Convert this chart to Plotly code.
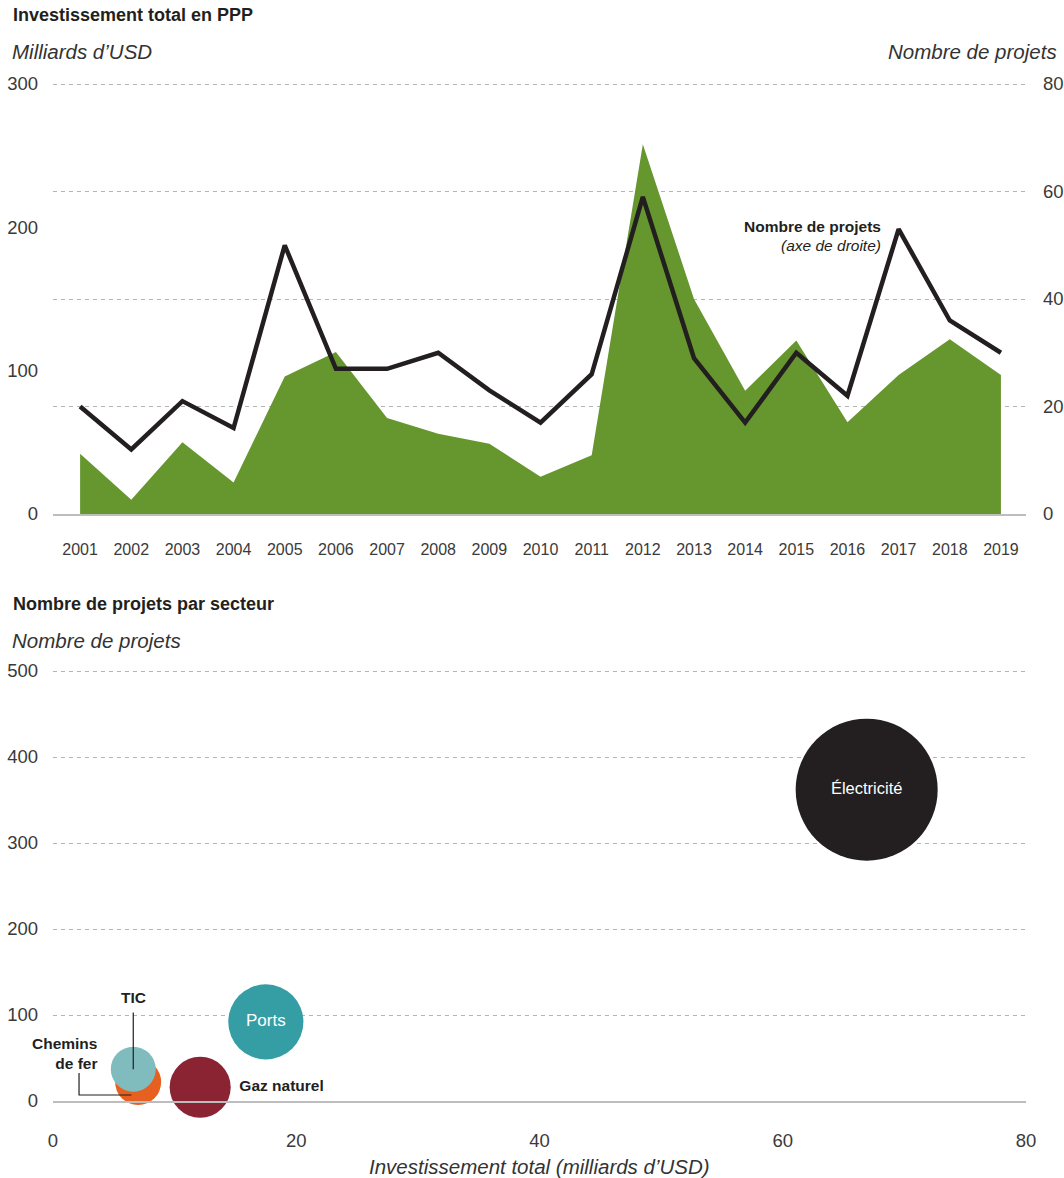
import plotly.graph_objects as go

# ---- Données : investissement total en PPP ----
annees = list(range(2001, 2020))
investissement_mds = [42, 10, 50, 22, 96, 113, 67, 56, 49, 26, 41, 258, 150, 86, 121, 64, 97, 122, 97]
nombre_projets = [20, 12, 21, 16, 50, 27, 27, 30, 23, 17, 26, 59, 29, 17, 30, 22, 53, 36, 30]

# ---- Données : projets par secteur ----
secteurs = ["Électricité", "Ports", "Gaz naturel", "Chemins de fer", "TIC"]
invest_secteur = [66.9, 17.5, 12.1, 7.0, 6.6]
projets_secteur = [362, 92, 16, 22, 37]
poids_bulle = [100, 28, 18.5, 10.5, 10]

W, H = 1064, 1178
FONT = "Liberation Sans"
TXT = "#231f20"
SUB = "#333333"
GRID = "#b3b3b3"
AXIS = "#bdbdbd"
GREEN = "#66962e"
couleurs = ["#231f20", "#359ea4", "#8a2332", "#e8601f", "#80bcbe"]


def py(px):
    return 1 - px / H


def pxx(px):
    return px / W


x_dom = [pxx(53), pxx(1026)]

fig = go.Figure()

# aire : investissement (axe gauche)
fig.add_trace(go.Scatter(
    x=annees, y=investissement_mds, mode="lines", fill="tozeroy",
    line=dict(width=0, color=GREEN), fillcolor=GREEN,
    xaxis="x", yaxis="y", hoverinfo="skip", showlegend=False,
))
# ligne : nombre de projets (axe droit)
fig.add_trace(go.Scatter(
    x=annees, y=nombre_projets, mode="lines",
    line=dict(width=4.5, color=TXT), xaxis="x", yaxis="y2",
    showlegend=False,
))

# bulles par secteur
texte = ["Électricité", "Ports", "<b>Gaz naturel</b>", "", ""]
positions = ["middle center", "middle center", "middle right", "middle center", "middle center"]
couleurs_texte = ["white", "white", TXT, TXT, TXT]
max_d = 142
fig.add_trace(go.Scatter(
    x=invest_secteur, y=projets_secteur, mode="markers+text",
    text=texte, textposition=positions,
    textfont=dict(family=FONT, size=[16.5, 17, 15.5, 15, 15], color=couleurs_texte),
    marker=dict(size=poids_bulle, sizemode="area",
                sizeref=2 * max(poids_bulle) / max_d ** 2,
                color=couleurs, opacity=1, line=dict(width=0)),
    cliponaxis=False, xaxis="x2", yaxis="y3", showlegend=False,
))

tick_font = dict(family=FONT, size=18.5, color="#3a3a3a")

# bornes hautes élargies de ~2 px pour que la dernière ligne de grille soit tracée
fig.update_layout(
    width=W, height=H,
    margin=dict(l=0, r=0, t=0, b=0, autoexpand=False),
    paper_bgcolor="white", plot_bgcolor="white",
    font=dict(family=FONT, color=TXT),
    xaxis=dict(
        domain=x_dom, anchor="y", range=[2000.47, 2019.49], automargin=False,
        tickvals=annees, ticktext=[str(a) for a in annees],
        tickfont=dict(family=FONT, size=16, color="#3a3a3a"),
        ticks="", showgrid=False, zeroline=False,
        showline=True, linecolor=AXIS, linewidth=1.5,
        ticklabelstandoff=20,
    ),
    yaxis=dict(
        domain=[py(514), py(81.85)], anchor="x", range=[0, 301.5], automargin=False,
        tickvals=[0, 100, 200, 300], tickfont=tick_font,
        showgrid=False, zeroline=False, ticks="",
        ticklabelstandoff=14,
    ),
    yaxis2=dict(
        overlaying="y", side="right", anchor="x", range=[0, 80.4], automargin=False,
        tickvals=[0, 20, 40, 60, 80], tickfont=tick_font,
        showgrid=True, gridcolor=GRID, griddash="4px,4px", gridwidth=1,
        zeroline=False, ticks="", ticklabelstandoff=16,
    ),
    xaxis2=dict(
        domain=x_dom, anchor="y3", range=[0, 80], automargin=False,
        tickvals=[0, 20, 40, 60, 80], tickfont=tick_font,
        ticks="", showgrid=False, zeroline=False,
        showline=True, linecolor=AXIS, linewidth=1.5,
        ticklabelstandoff=22,
    ),
    yaxis3=dict(
        domain=[py(1101), py(668.85)], anchor="x2", range=[0, 502.5], automargin=False,
        tickvals=[0, 100, 200, 300, 400, 500], tickfont=tick_font,
        showgrid=True, gridcolor=GRID, griddash="4px,4px", gridwidth=1,
        zeroline=False, ticks="", ticklabelstandoff=14,
    ),
)

annots = [
    dict(text="<b>Investissement total en PPP</b>", x=pxx(11), y=py(15),
         xanchor="left", font=dict(size=18)),
    dict(text="<i>Milliards d’USD</i>", x=pxx(10), y=py(52),
         xanchor="left", font=dict(size=20.5, color=SUB)),
    dict(text="<i>Nombre de projets</i>", x=pxx(1059), y=py(52),
         xanchor="right", font=dict(size=20.5, color=SUB)),
    dict(text="<b>Nombre de projets par secteur</b>", x=pxx(11), y=py(604),
         xanchor="left", font=dict(size=18)),
    dict(text="<i>Nombre de projets</i>", x=pxx(10), y=py(640),
         xanchor="left", font=dict(size=20.5, color=SUB)),
    dict(text="<i>Investissement total (milliards d’USD)</i>", x=(x_dom[0] + x_dom[1]) / 2,
         y=py(1166), xanchor="center", font=dict(size=20.5, color=SUB)),
    dict(text="<b>Nombre de projets</b>", x=pxx(883), y=py(227),
         xanchor="right", font=dict(size=15.5)),
    dict(text="<i>(axe de droite)</i>", x=pxx(883), y=py(245),
         xanchor="right", font=dict(size=15.5)),
]
for a in annots:
    a.update(xref="paper", yref="paper", yanchor="middle", showarrow=False)
    a["font"].setdefault("family", FONT)
    a["font"].setdefault("color", TXT)

# étiquettes TIC et Chemins de fer avec traits de rappel
i_tic = secteurs.index("TIC")
i_cf = secteurs.index("Chemins de fer")
annots.append(dict(text="<b>TIC</b>", x=invest_secteur[i_tic], y=projets_secteur[i_tic],
                   xref="x2", yref="y3", yshift=72, showarrow=False,
                   font=dict(family=FONT, size=15.5, color=TXT)))
annots.append(dict(text="<b>Chemins<br>de fer</b>", x=invest_secteur[i_cf], y=projets_secteur[i_cf],
                   xref="x2", yref="y3", xshift=-39, yshift=29, xanchor="right",
                   align="right", showarrow=False,
                   font=dict(family=FONT, size=15.5, color=TXT)))
fig.update_layout(annotations=annots)

x_tic, y_tic = invest_secteur[i_tic], projets_secteur[i_tic]
x_cf, y_cf = invest_secteur[i_cf], projets_secteur[i_cf]
fig.add_shape(type="line", xref="x2", yref="y3",
              x0=x_tic, x1=x_tic, y0=y_tic, y1=y_tic + 66,
              line=dict(color=TXT, width=1.2))
fig.add_shape(type="path", xref="x2", yref="y3",
              path=f"M {x_cf - 0.55} {y_cf - 15} L {x_cf - 4.86} {y_cf - 15} L {x_cf - 4.86} {y_cf + 10.5}",
              line=dict(color=TXT, width=1.2))

fig.write_html("out.html", post_script="document.body.style.margin='0';")
